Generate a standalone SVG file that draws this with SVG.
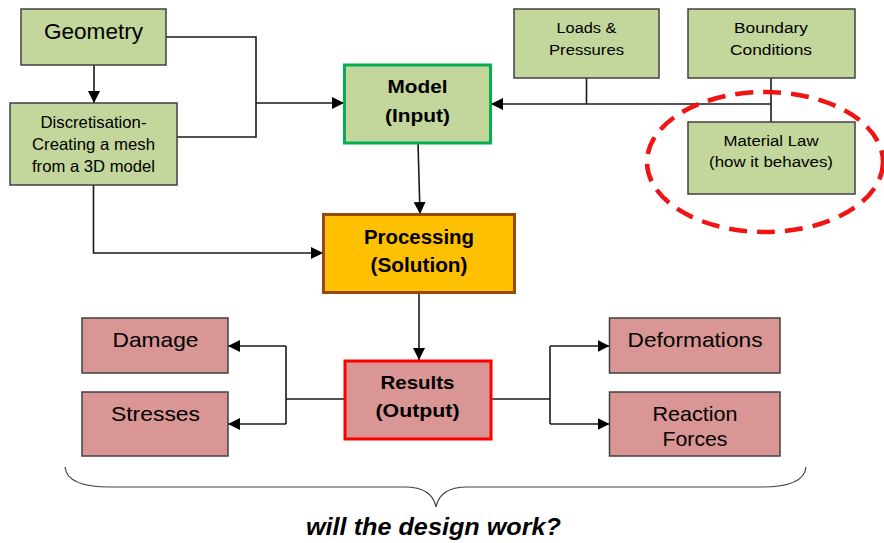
<svg xmlns="http://www.w3.org/2000/svg" width="884" height="543" viewBox="0 0 884 543">
<style>
text{font-family:"Liberation Sans",Arial,sans-serif;fill:#000;text-anchor:middle}
.g{fill:#C3D69B;stroke:#404040;stroke-width:1.5}
.p{fill:#D99694;stroke:#404040;stroke-width:1.5}
.c{fill:none;stroke:#1a1a1a;stroke-width:1.6}
.b{font-weight:bold}
</style>
<defs>
<marker id="ah" viewBox="0 0 10 10" refX="10" refY="5" markerWidth="7.5" markerHeight="7.5" orient="auto" markerUnits="strokeWidth"><path d="M0,0L10,5L0,10z" fill="#000"/></marker>
</defs>
<g id="connectors">
<path class="c" d="M94,65V103" marker-end="url(#ah)"/>
<path class="c" d="M166,37H256V137H177"/>
<path class="c" d="M256,103H344" marker-end="url(#ah)"/>
<path class="c" d="M93.5,185V253H323" marker-end="url(#ah)"/>
<path class="c" d="M586.5,78V104" stroke="#303030"/>
<path class="c" d="M771,78V122"/>
<path class="c" d="M771,104H491" marker-end="url(#ah)"/>
<path class="c" d="M418,143L420,214" marker-end="url(#ah)"/>
<path class="c" d="M419,293V360" marker-end="url(#ah)"/>
<path class="c" d="M344,399H286"/>
<path class="c" d="M286,346V424"/>
<path class="c" d="M286,346H228" marker-end="url(#ah)"/>
<path class="c" d="M286,424H228" marker-end="url(#ah)"/>
<path class="c" d="M491,399H550"/>
<path class="c" d="M550,346V424"/>
<path class="c" d="M550,346H609.5" marker-end="url(#ah)"/>
<path class="c" d="M550,424H609.5" marker-end="url(#ah)"/>
</g>
<g id="geometry"><rect class="g" x="21" y="9" width="145" height="56"/><text x="93.5" y="39" font-size="22" textLength="99" lengthAdjust="spacingAndGlyphs">Geometry</text></g>
<g id="discretisation"><rect class="g" x="10" y="103" width="167" height="82"/>
<text x="93.5" y="128" font-size="16.5" textLength="106" lengthAdjust="spacingAndGlyphs">Discretisation-</text>
<text x="93.5" y="150" font-size="16.5" textLength="123" lengthAdjust="spacingAndGlyphs">Creating a mesh</text>
<text x="93.5" y="172" font-size="16.5" textLength="123" lengthAdjust="spacingAndGlyphs">from a 3D model</text></g>
<g id="model"><rect x="344.5" y="65" width="146" height="78" fill="#C3D69B" stroke="#00B050" stroke-width="3"/>
<text class="b" x="417.5" y="93" font-size="19" textLength="60" lengthAdjust="spacingAndGlyphs">Model</text>
<text class="b" x="417.5" y="122" font-size="19" textLength="65" lengthAdjust="spacingAndGlyphs">(Input)</text></g>
<g id="loads"><rect class="g" x="514" y="9" width="145" height="69"/>
<text x="586.5" y="33" font-size="15.5" textLength="60" lengthAdjust="spacingAndGlyphs">Loads &amp;</text>
<text x="586.5" y="55" font-size="15.5" textLength="75" lengthAdjust="spacingAndGlyphs">Pressures</text></g>
<g id="boundary"><rect class="g" x="688" y="9" width="167" height="69"/>
<text x="771" y="33" font-size="15.5" textLength="74" lengthAdjust="spacingAndGlyphs">Boundary</text>
<text x="771" y="55" font-size="15.5" textLength="82" lengthAdjust="spacingAndGlyphs">Conditions</text></g>
<g id="material"><rect class="g" x="688" y="122" width="167" height="72"/>
<text x="771" y="146" font-size="15.5" textLength="95" lengthAdjust="spacingAndGlyphs">Material Law</text>
<text x="771" y="167" font-size="15.5" textLength="124" lengthAdjust="spacingAndGlyphs">(how it behaves)</text></g>
<g id="highlight"><ellipse cx="765" cy="162" rx="118" ry="70" fill="none" stroke="#F01414" stroke-width="4.5" stroke-dasharray="18 10"/></g>
<g id="processing"><rect x="323.5" y="214.5" width="191" height="78" fill="#FFC000" stroke="#984807" stroke-width="3"/>
<text class="b" x="419" y="244" font-size="20" textLength="110" lengthAdjust="spacingAndGlyphs">Processing</text>
<text class="b" x="419" y="272" font-size="20" textLength="97" lengthAdjust="spacingAndGlyphs">(Solution)</text></g>
<g id="results"><rect x="345" y="361" width="146" height="78" fill="#D99694" stroke="#FF0000" stroke-width="3"/>
<text class="b" x="417.5" y="389" font-size="18.5" textLength="74" lengthAdjust="spacingAndGlyphs">Results</text>
<text class="b" x="417.5" y="417" font-size="18.5" textLength="84" lengthAdjust="spacingAndGlyphs">(Output)</text></g>
<g id="damage"><rect class="p" x="82" y="318" width="146" height="55"/><text x="155.5" y="347" font-size="21" textLength="86" lengthAdjust="spacingAndGlyphs">Damage</text></g>
<g id="stresses"><rect class="p" x="82" y="392" width="146" height="64"/><text x="155.5" y="421" font-size="21" textLength="89" lengthAdjust="spacingAndGlyphs">Stresses</text></g>
<g id="deformations"><rect class="p" x="609.5" y="318" width="170.5" height="55"/><text x="695" y="347" font-size="21" textLength="135" lengthAdjust="spacingAndGlyphs">Deformations</text></g>
<g id="reaction"><rect class="p" x="609.5" y="392" width="170.5" height="64"/>
<text x="695" y="421" font-size="21" textLength="85" lengthAdjust="spacingAndGlyphs">Reaction</text>
<text x="695" y="446" font-size="21" textLength="65" lengthAdjust="spacingAndGlyphs">Forces</text></g>
<g id="brace"><path d="M65,467Q67,487 110,487L405,487Q432,487 436,507Q440,487 467,487L762,487Q804,487 806,467" fill="none" stroke="#404040" stroke-width="1.2"/>
<text x="433.5" y="535" font-size="23" font-style="italic" font-weight="bold" textLength="255" lengthAdjust="spacingAndGlyphs">will the design work?</text></g>
</svg>
